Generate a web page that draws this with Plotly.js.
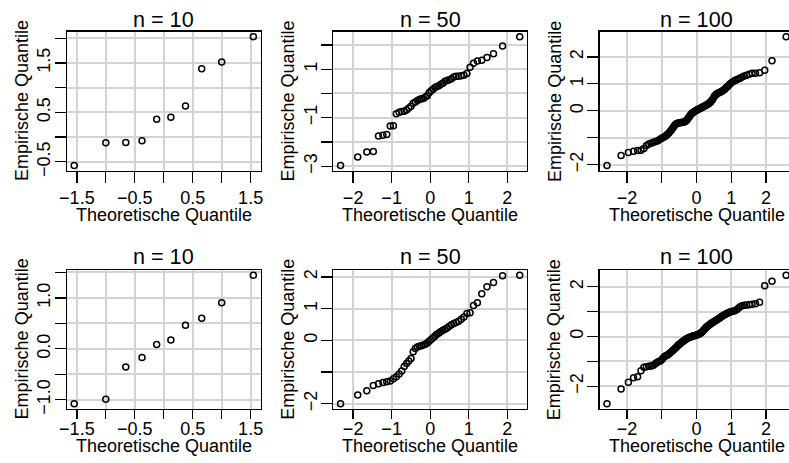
<!DOCTYPE html>
<html><head><meta charset="utf-8">
<script src="https://cdn.plot.ly/plotly-3.0.1.min.js"></script>
<style>html,body{margin:0;padding:0;background:#fff}#chart{width:789px;height:463px}</style>
</head><body><div id="chart"></div>
<script>
// Theoretical normal quantiles (x values of the QQ plots)
const q10 = [-1.5466, -1.0005, -0.6554, -0.3755, -0.1226, 0.1226, 0.3755, 0.6554, 1.0005, 1.5466];
const q50 = [-2.3263, -1.8808, -1.6449, -1.4758, -1.3408, -1.2265, -1.1264, -1.0364, -0.9542, -0.8779,
  -0.8064, -0.7388, -0.6745, -0.6128, -0.5534, -0.4959, -0.4399, -0.3853, -0.3319, -0.2793,
  -0.2275, -0.1764, -0.1257, -0.0753, -0.0251, 0.0251, 0.0753, 0.1257, 0.1764, 0.2275,
  0.2793, 0.3319, 0.3853, 0.4399, 0.4959, 0.5534, 0.6128, 0.6745, 0.7388, 0.8064,
  0.8779, 0.9542, 1.0364, 1.1264, 1.2265, 1.3408, 1.4758, 1.6449, 1.8808, 2.3263];
const q100 = [-2.5758, -2.1701, -1.9600, -1.8119, -1.6954, -1.5982, -1.5141, -1.4395, -1.3722, -1.3106,
  -1.2536, -1.2004, -1.1503, -1.1031, -1.0581, -1.0152, -0.9741, -0.9346, -0.8965, -0.8596,
  -0.8239, -0.7892, -0.7554, -0.7225, -0.6903, -0.6588, -0.6280, -0.5978, -0.5681, -0.5388,
  -0.5101, -0.4817, -0.4538, -0.4261, -0.3989, -0.3719, -0.3451, -0.3186, -0.2924, -0.2663,
  -0.2404, -0.2147, -0.1891, -0.1637, -0.1383, -0.1130, -0.0878, -0.0627, -0.0376, -0.0125,
  0.0125, 0.0376, 0.0627, 0.0878, 0.1130, 0.1383, 0.1637, 0.1891, 0.2147, 0.2404,
  0.2663, 0.2924, 0.3186, 0.3451, 0.3719, 0.3989, 0.4261, 0.4538, 0.4817, 0.5101,
  0.5388, 0.5681, 0.5978, 0.6280, 0.6588, 0.6903, 0.7225, 0.7554, 0.7892, 0.8239,
  0.8596, 0.8965, 0.9346, 0.9741, 1.0152, 1.0581, 1.1031, 1.1503, 1.2004, 1.2536,
  1.3106, 1.3722, 1.4395, 1.5141, 1.5982, 1.6954, 1.8119, 1.9600, 2.1701, 2.5758];

const top10 = [-0.575, -0.116, -0.110, -0.075, 0.363, 0.404, 0.630, 1.384, 1.521, 2.034];
const top50 = [-2.975, -2.626, -2.42, -2.40, -1.76, -1.73, -1.69, -1.34, -1.33, -0.84,
  -0.78, -0.75, -0.74, -0.68, -0.60, -0.53, -0.405, -0.35, -0.29, -0.25,
  -0.22, -0.21, -0.15, -0.10, 0.03, 0.11, 0.17, 0.24, 0.28, 0.32,
  0.38, 0.42, 0.50, 0.53, 0.56, 0.60, 0.68, 0.71, 0.71, 0.73,
  0.75, 0.82, 1.075, 1.24, 1.34, 1.37, 1.48, 1.63, 1.95, 2.34];
const top100 = [-2.03, -1.66, -1.55, -1.50, -1.475, -1.46, -1.40, -1.29, -1.23, -1.20,
  -1.175, -1.15, -1.125, -1.10, -1.06, -1.025, -1.00, -0.975, -0.94, -0.90,
  -0.86, -0.81, -0.76, -0.71, -0.65, -0.59, -0.54, -0.50, -0.475, -0.46,
  -0.45, -0.44, -0.435, -0.43, -0.425, -0.42, -0.41, -0.39, -0.36, -0.32,
  -0.28, -0.23, -0.18, -0.14, -0.10, -0.07, -0.05, -0.03, -0.01, 0.01,
  0.03, 0.05, 0.065, 0.08, 0.095, 0.11, 0.13, 0.15, 0.17, 0.19,
  0.20, 0.22, 0.24, 0.26, 0.29, 0.32, 0.36, 0.41, 0.47, 0.53,
  0.58, 0.61, 0.64, 0.66, 0.68, 0.70, 0.72, 0.75, 0.78, 0.82,
  0.86, 0.91, 0.96, 1.01, 1.05, 1.09, 1.12, 1.15, 1.18, 1.21,
  1.25, 1.29, 1.32, 1.36, 1.39, 1.395, 1.41, 1.50, 1.86, 2.75];
const bot10 = [-1.076, -0.99, -0.356, -0.172, 0.086, 0.172, 0.462, 0.601, 0.904, 1.446];
const bot50 = [-2.0, -1.73, -1.59, -1.43, -1.37, -1.33, -1.31, -1.285, -1.21, -1.15,
  -1.06, -0.97, -0.83, -0.73, -0.65, -0.57, -0.36, -0.255, -0.21, -0.19,
  -0.17, -0.15, -0.12, -0.085, -0.03, 0.03, 0.085, 0.14, 0.19, 0.23,
  0.28, 0.32, 0.35, 0.39, 0.445, 0.49, 0.53, 0.56, 0.605, 0.67,
  0.74, 0.85, 0.87, 1.10, 1.19, 1.475, 1.69, 1.83, 2.04, 2.06];
const bot100 = [-2.70, -2.11, -1.84, -1.66, -1.62, -1.38, -1.24, -1.22, -1.20, -1.19,
  -1.16, -1.11, -1.05, -1.01, -0.99, -0.95, -0.88, -0.82, -0.78, -0.76,
  -0.73, -0.69, -0.65, -0.61, -0.57, -0.53, -0.49, -0.45, -0.41, -0.365,
  -0.325, -0.30, -0.26, -0.23, -0.20, -0.175, -0.15, -0.12, -0.095, -0.07,
  -0.055, -0.04, -0.03, -0.015, 0.0, 0.015, 0.03, 0.035, 0.04, 0.055,
  0.07, 0.08, 0.095, 0.11, 0.135, 0.16, 0.19, 0.23, 0.27, 0.31,
  0.35, 0.39, 0.42, 0.445, 0.47, 0.50, 0.53, 0.555, 0.58, 0.61,
  0.635, 0.66, 0.69, 0.72, 0.74, 0.78, 0.81, 0.84, 0.865, 0.89,
  0.92, 0.945, 0.97, 1.00, 1.01, 1.03, 1.04, 1.08, 1.135, 1.20,
  1.24, 1.26, 1.27, 1.28, 1.30, 1.32, 1.38, 2.04, 2.22, 2.47];

const titles = ["n = 10", "n = 50", "n = 100", "n = 10", "n = 50", "n = 100"];
const xTitle = "Theoretische Quantile";
const yTitle = "Empirische Quantile";

const xTicks10 = [-1.5, -1, -0.5, 0, 0.5, 1, 1.5];
const xLabels10 = ["−1.5", "", "−0.5", "", "0.5", "", "1.5"];
const xTicks50 = [-2, -1, 0, 1, 2];
const xLabels50 = ["−2", "−1", "0", "1", "2"];
const xTicks100 = [-2, -1, 0, 1, 2];
const xLabels100 = ["−2", "", "0", "1", "2"];
const yTicksTop10 = [-0.5, 0, 0.5, 1, 1.5, 2];
const yLabelsTop10 = ["−0.5", "", "0.5", "", "1.5", ""];
const yTicksTop50 = [-3, -2, -1, 0, 1, 2];
const yLabelsTop50 = ["−3", "", "−1", "", "1", ""];
const yTicksTop100 = [-2, -1, 0, 1, 2];
const yLabelsTop100 = ["−2", "", "0", "1", "2"];
const yTicksBot10 = [-1, -0.5, 0, 0.5, 1, 1.5];
const yLabelsBot10 = ["−1.0", "", "0.0", "", "1.0", ""];
const yTicksBot50 = [-2, -1, 0, 1, 2];
const yLabelsBot50 = ["−2", "", "0", "1", "2"];
const yTicksBot100 = [-2, -1, 0, 1, 2];
const yLabelsBot100 = ["−2", "", "0", "", "2"];

const panels = [
  {x: q10, y: top10, xt: xTicks10, xl: xLabels10, yt: yTicksTop10, yl: yLabelsTop10},
  {x: q50, y: top50, xt: xTicks50, xl: xLabels50, yt: yTicksTop50, yl: yLabelsTop50},
  {x: q100, y: top100, xt: xTicks100, xl: xLabels100, yt: yTicksTop100, yl: yLabelsTop100},
  {x: q10, y: bot10, xt: xTicks10, xl: xLabels10, yt: yTicksBot10, yl: yLabelsBot10},
  {x: q50, y: bot50, xt: xTicks50, xl: xLabels50, yt: yTicksBot50, yl: yLabelsBot50},
  {x: q100, y: bot100, xt: xTicks100, xl: xLabels100, yt: yTicksBot100, yl: yLabelsBot100}
];

// geometry (pixels)
const W = 789, H = 463;
const lefts = [67, 333.4, 599.8];
const PW = 193.5;
const rows = [
  {top: 31.5, bottom: 170.7, xtitle: 215, title: 19, xstand: -1, xlen: 11},
  {top: 270, bottom: 408.8, xtitle: 446, title: 256, xstand: -6, xlen: 9}
];
const FONT = "Liberation Sans, Arial, Helvetica, sans-serif";

function ext(arr) {
  const lo = Math.min(...arr), hi = Math.max(...arr), d = hi - lo;
  return [lo - 0.04 * d, hi + 0.04 * d];
}

const data = [];
const layout = {
  width: W, height: H,
  margin: {l: 0, r: 0, t: 0, b: 0},
  paper_bgcolor: "#fff", plot_bgcolor: "#fff",
  showlegend: false,
  font: {family: FONT, size: 18, color: "#000"},
  annotations: []
};

panels.forEach((p, i) => {
  const col = i % 3, r = rows[Math.floor(i / 3)];
  const sfx = i === 0 ? "" : String(i + 1);
  const left = lefts[col];
  const right = Math.min(left + PW, W);
  let xr = ext(p.x);
  if (left + PW > W) xr = [xr[0], xr[0] + (xr[1] - xr[0]) * (W - left) / PW];
  const yr = ext(p.y);
  const cut = left + PW > W;
  data.push({
    type: "scatter", mode: "markers", x: p.x, y: p.y,
    xaxis: "x" + sfx, yaxis: "y" + sfx,
    marker: {symbol: "circle-open", size: 6, color: "#000", line: {width: 1.5, color: "#000"}},
    hoverinfo: "skip", cliponaxis: false
  });
  const common = {
    showline: true, linecolor: "#000", linewidth: 1.5,
    ticks: "outside", tickcolor: "#000", tickwidth: 1.3,
    showgrid: true, gridcolor: "#D3D3D3", gridwidth: 2, zeroline: false,
    tickfont: {family: FONT, size: 18, color: "#000"}, tickmode: "array",
    fixedrange: true, automargin: false
  };
  layout["xaxis" + sfx] = Object.assign({}, common, {
    domain: [left / W, right / W], range: xr, anchor: "y" + sfx,
    tickvals: p.xt, ticktext: p.xl, ticklen: r.xlen, ticklabelstandoff: r.xstand,
    mirror: true
  });
  layout["yaxis" + sfx] = Object.assign({}, common, {
    domain: [1 - r.bottom / H, 1 - r.top / H], range: yr, anchor: "x" + sfx,
    tickvals: p.yt, ticktext: p.yl, ticklen: 11, tickangle: -90, ticklabelstandoff: -3,
    mirror: cut ? false : true
  });
  const cx = (left + PW / 2) / W;
  layout.annotations.push({text: titles[i], xref: "paper", yref: "paper", x: cx, y: 1 - r.title / H,
    xanchor: "center", yanchor: "middle", showarrow: false, font: {family: FONT, size: 21.6, color: "#000"}});
  layout.annotations.push({text: xTitle, xref: "paper", yref: "paper", x: cx, y: 1 - r.xtitle / H,
    xanchor: "center", yanchor: "middle", showarrow: false, font: {family: FONT, size: 18, color: "#000"}});
  layout.annotations.push({text: yTitle, xref: "paper", yref: "paper", x: (left - 45) / W,
    y: 1 - (r.top + r.bottom) / 2 / H, textangle: -90,
    xanchor: "center", yanchor: "middle", showarrow: false, font: {family: FONT, size: 18, color: "#000"}});
});

Plotly.newPlot("chart", data, layout, {displayModeBar: false, staticPlot: true});
</script>
</body></html>
